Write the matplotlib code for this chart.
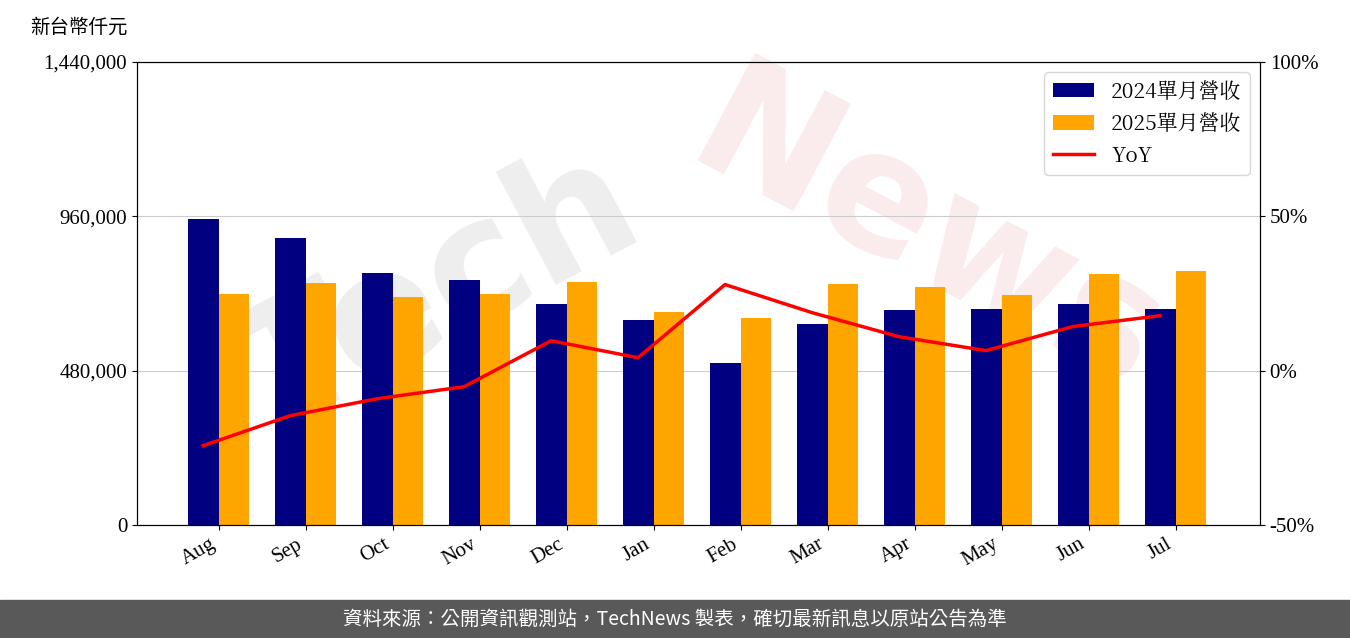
import matplotlib
matplotlib.use("Agg")
import matplotlib.pyplot as plt
import numpy as np

months = ["Aug","Sep","Oct","Nov","Dec","Jan","Feb","Mar","Apr","May","Jun","Jul"]
rev2024 = [951700,892600,783700,762000,687300,637600,503800,625100,668700,671800,687300,671800]
rev2025 = [718400,752600,709100,718400,755700,662400,643800,749500,740200,715300,780600,789900]
yoy = [-24.3,-14.6,-9.1,-5.2,9.7,4.2,27.9,18.8,11.0,6.5,14.3,17.8]

cjk = ["Noto Sans CJK TC","DejaVu Sans"]
serif = ["Liberation Serif","DejaVu Serif"]

fig = plt.figure(figsize=(13.5,6.38), dpi=100)
ax = fig.add_axes([137/1350, 1-525/638, (1260-137)/1350, (525-62)/638])
x = np.arange(len(months))
w = 0.35
ax.text(0.47, 0.5, "Tech", transform=ax.transAxes, fontsize=120, color="#bbbbbb", alpha=0.25,
        rotation=28, ha="right", va="center", weight="bold", zorder=1)
ax.text(0.47, 0.62, "News", transform=ax.transAxes, fontsize=120, color="#e8a0a0", alpha=0.2,
        rotation=-28, ha="left", va="center", weight="bold", zorder=1)
ax.bar(x-w/2, rev2024, w, color="#000080", label="2024單月營收", zorder=2)
ax.bar(x+w/2, rev2025, w, color="#FFA500", label="2025單月營收", zorder=2)
ax.set_ylim(0,1440000)
ax.set_yticks([0,480000,960000,1440000])
ax.set_yticklabels([f"{v:,}" for v in [0,480000,960000,1440000]], fontsize=15, family=serif)
ax.grid(axis="y", color="#cccccc", zorder=0)
ax.set_xlim(-0.94, 11.97)
ax.set_xticks(x)
ax.set_xticklabels(months, rotation=30, ha="right", fontsize=15, family=serif)
ax2 = ax.twinx()
ax2.plot(x-0.18, yoy, color="red", lw=2.5, label="YoY")
ax2.set_ylim(-50,100)
ax2.set_yticks([-50,0,50,100])
ax2.set_yticklabels(["-50%","0%","50%","100%"], fontsize=15, family=serif)
h1,l1 = ax.get_legend_handles_labels()
h2,l2 = ax2.get_legend_handles_labels()
ax2.legend(h1+h2, l1+l2, loc="upper right", prop={"family":["Noto Serif CJK TC","Noto Sans CJK TC","DejaVu Sans"],"size":15})
fig.text(30/1350, 1-27/638, "新台幣仟元", fontsize=14, family=cjk, va="center")
fig.patches.append(plt.Rectangle((0,0),1,38/638, transform=fig.transFigure, color="#595959"))
fig.text(0.5, 19/638, "資料來源：公開資訊觀測站，TechNews 製表，確切最新訊息以原站公告為準",
         color="white", fontsize=14, family=cjk, ha="center", va="center")
fig.savefig("out.png", dpi=100)
